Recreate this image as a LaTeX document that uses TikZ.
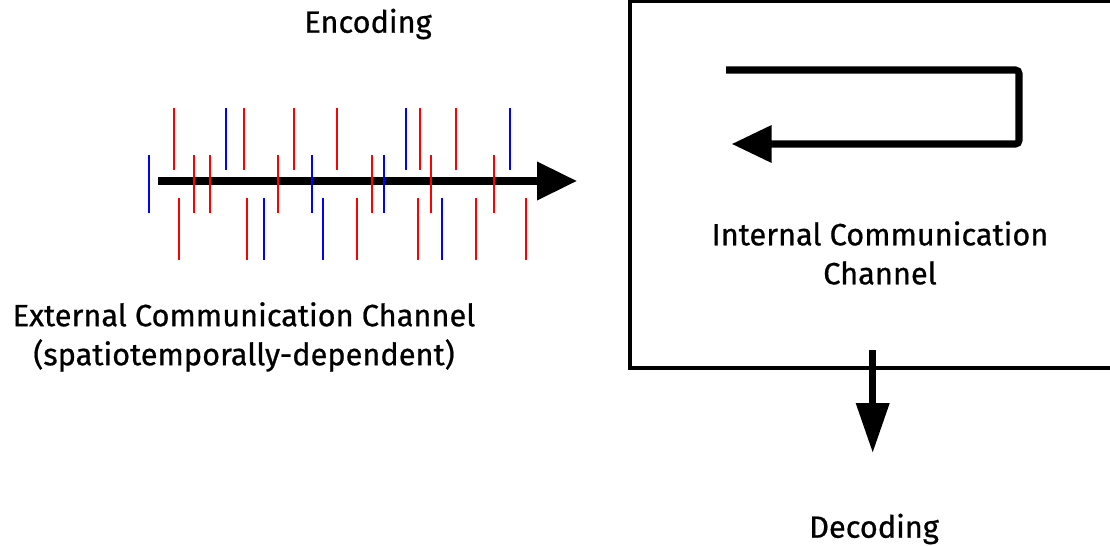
\documentclass[tikz,border=0pt]{standalone}
\usepackage{fontspec}
\setmainfont{Fira Sans}[FakeBold=0.7]
\usetikzlibrary{arrows.meta}
\usetikzlibrary{positioning}
\definecolor{SpikeRed}{HTML}{FF0000}
\definecolor{SpikeBlue}{HTML}{0000FF}

\begin{document}
\begin{tikzpicture}[x=0.02cm,y=-0.02cm,
    label text/.style={font=\fontsize{17.5}{22.2}\selectfont, align=center, inner sep=0pt},
    spike/.style={line width=1.1pt},
    flow/.style={line width=4pt, rounded corners=2pt}]
  \useasboundingbox (0,0) rectangle (1110,546);

  % external channel
  \coordinate (ext start) at (158,181);
  \coordinate (ext end) at (577,181);
  \draw[flow, -{Triangle[length=0.8cm,width=0.74cm]}] (ext start) -- (ext end);
  \foreach \x/\c in {174/SpikeRed, 226/SpikeBlue, 244/SpikeRed, 293.7/SpikeRed,
      336.7/SpikeRed, 406.3/SpikeBlue, 420/SpikeRed, 456/SpikeRed, 510/SpikeBlue}
    \draw[spike, \c] (\x,108) -- (\x,170);
  \foreach \x/\c in {149.3/SpikeBlue, 194.3/SpikeRed, 210/SpikeRed, 277.7/SpikeRed,
      311.7/SpikeBlue, 372.3/SpikeRed, 383.7/SpikeBlue, 431/SpikeRed, 494/SpikeRed}
    \draw[spike, \c] (\x,155) -- (\x,213);
  \foreach \x/\c in {179/SpikeRed, 246.7/SpikeRed, 264.3/SpikeBlue, 322.7/SpikeBlue,
      357/SpikeRed, 417.7/SpikeRed, 442.3/SpikeBlue, 476/SpikeRed, 525.7/SpikeRed}
    \draw[spike, \c] (\x,198) -- (\x,260);

  \node[label text] (encoding) at (368,24) {Encoding};
  \node[label text] (external) at (244,337) {External Communication Channel\\(spatiotemporally-dependent)};

  % internal channel
  \draw[line width=2.8pt] (630,1) rectangle (1125,368);
  \coordinate (loop start) at (726,70);
  \coordinate (loop end) at (731.7,144);
  \draw[flow, -{Triangle[length=0.8cm,width=0.72cm]}]
    (loop start) -- (1019,70) -- (1019,144) -- (loop end);
  \node[label text] (internal) at (880,253) {Internal Communication\\Channel};

  % decoding
  \coordinate (dec start) at (872.7,350);
  \coordinate (dec end) at (872.7,453);
  \draw[line width=4pt, -{Triangle[length=1cm,width=0.64cm]}] (dec start) -- (dec end);
  \node[label text] (decoding) at (874,529) {Decoding};
\end{tikzpicture}
\end{document}
